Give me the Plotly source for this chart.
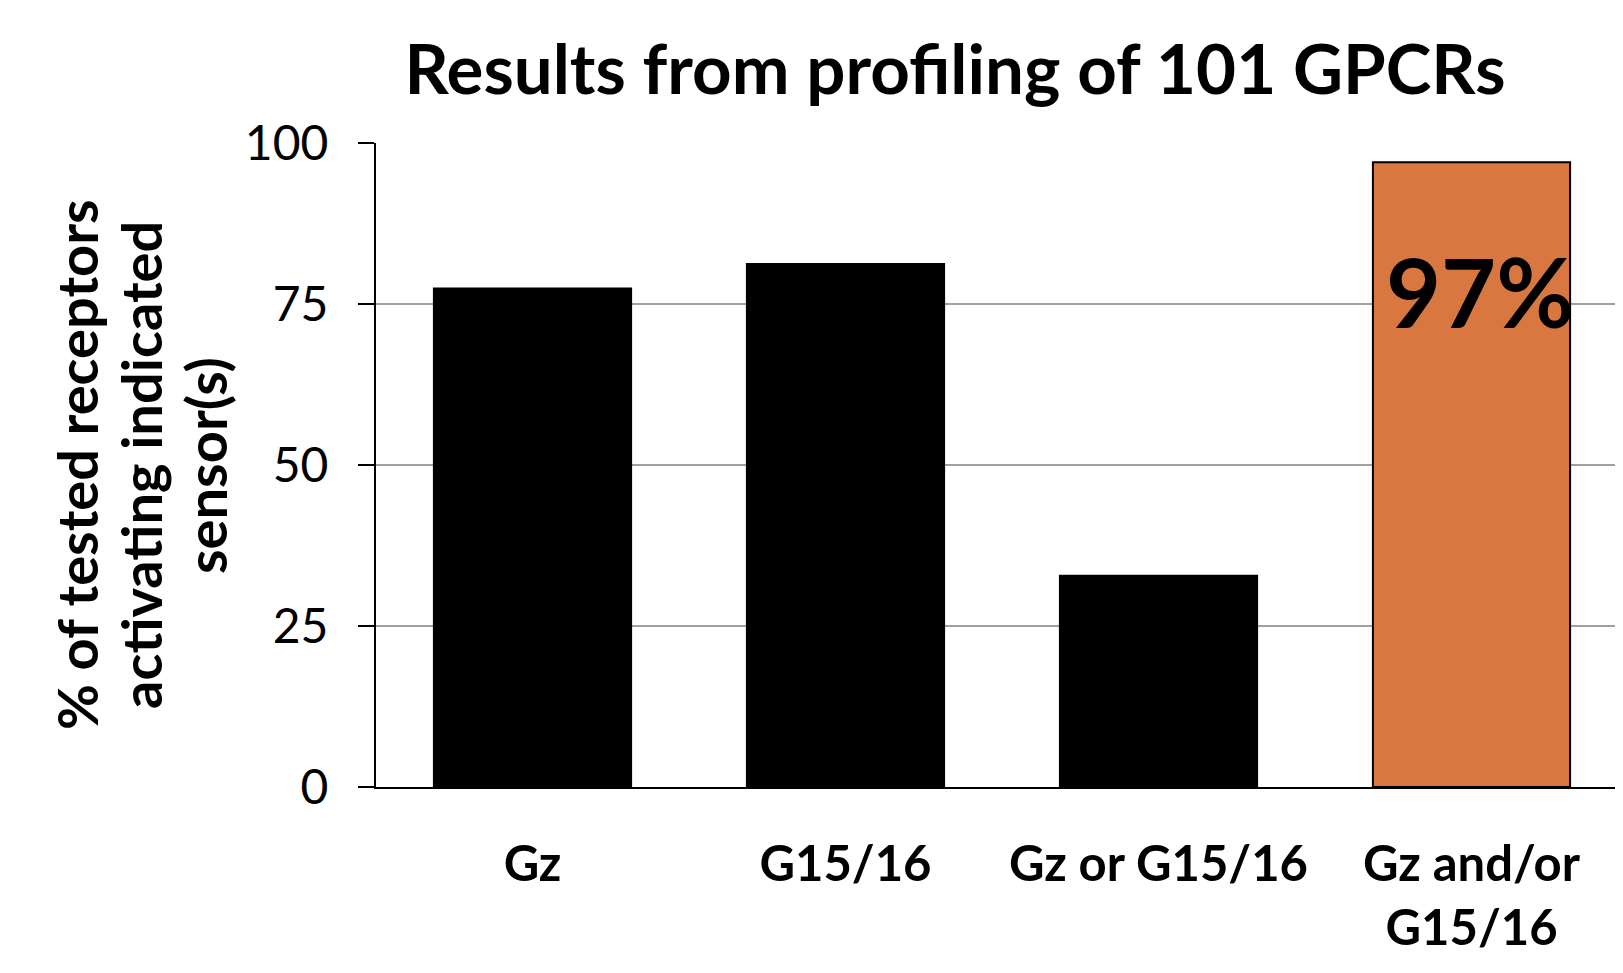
import plotly.graph_objects as go

categories = ["Gz", "G15/16", "Gz or G15/16", "Gz and/or G15/16"]
tick_text = ["Gz", "G15/16", "Gz or G15/16", "Gz and/or<br>G15/16"]
values = [77.4, 81.2, 32.8, 97.0]
bar_colors = ["#000000", "#000000", "#000000", "#D97740"]
y_ticks = [0, 25, 50, 75, 100]
highlight_label = "97%"
title_text = "Results from profiling of 101 GPCRs"
y_title_lines = ["% of tested receptors", "activating indicated", "sensor(s)"]

# the page body adds an 8px offset; size the figure so it ends at the window edge
W, H = 1615, 965
ml, mr, mt, mb = 368, 0, 135, 186
plot_w = W - ml - mr

fig = go.Figure()
fig.add_trace(go.Bar(
    x=categories, y=values,
    marker=dict(color=bar_colors, line=dict(color="#000000", width=2)),
    width=0.63,
    hoverinfo="x+y",
))

fig.add_annotation(
    x=categories[3], y=77, xref="x", yref="y",
    text=highlight_label, showarrow=False, xshift=8,
    font=dict(family="Lato, Liberation Sans", size=95, color="#000000", weight="bold"),
)

# y-axis title lines as rotated annotations
for line, cx in zip(y_title_lines, [68, 132, 197]):
    fig.add_annotation(
        xref="paper", yref="paper",
        x=(cx - ml) / plot_w, y=0.5,
        xanchor="center", yanchor="middle",
        text=line, textangle=-90, showarrow=False,
        font=dict(family="Lato, Liberation Sans", size=56, color="#000000", weight="bold"),
    )

fig.update_layout(
    width=W, height=H,
    margin=dict(l=ml, r=mr, t=mt, b=mb, autoexpand=False),
    paper_bgcolor="white", plot_bgcolor="white",
    showlegend=False,
    title=dict(
        text=title_text, x=947 / W, xanchor="center", xref="container",
        y=1 - 62 / H, yanchor="middle", yref="container",
        font=dict(family="Lato, Liberation Sans", size=69, color="#000000", weight="bold"),
    ),
    xaxis=dict(
        range=[-0.5, 3.484],
        tickmode="array", tickvals=categories, ticktext=tick_text,
        showline=True, linecolor="#000000", linewidth=2,
        ticks="", showgrid=False, zeroline=False,
        ticklabelstandoff=33,
        tickfont=dict(family="Lato, Liberation Sans", size=49, color="#000000", weight="bold"),
    ),
    yaxis=dict(
        range=[0, 100],
        tickmode="array", tickvals=y_ticks,
        showline=True, linecolor="#000000", linewidth=2,
        ticks="outside", ticklen=16, tickwidth=2, tickcolor="#000000",
        showgrid=True, gridcolor="#A0A0A0", gridwidth=1.5,
        zeroline=False,
        ticklabelstandoff=20,
        tickfont=dict(family="Lato, Liberation Sans", size=48, color="#000000"),
    ),
)

fig.write_html("out.html")
